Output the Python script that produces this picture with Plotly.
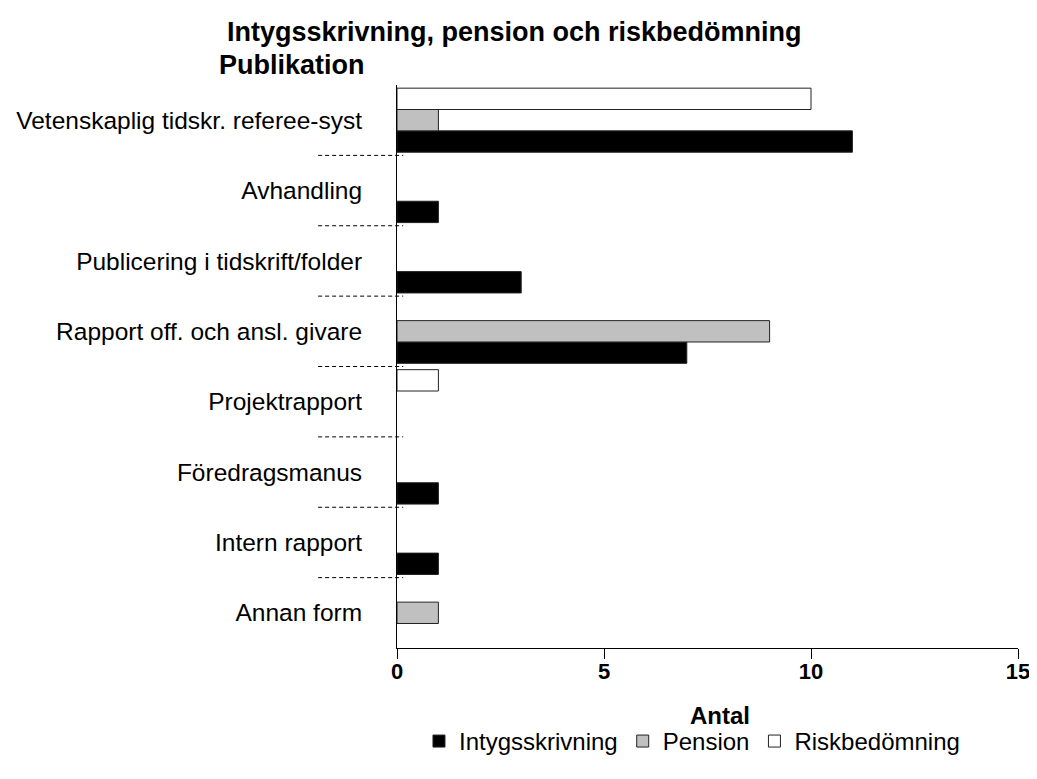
import plotly.graph_objects as go

categories = [
    "Vetenskaplig tidskr. referee-syst",
    "Avhandling",
    "Publicering i tidskrift/folder",
    "Rapport off. och ansl. givare",
    "Projektrapport",
    "Föredragsmanus",
    "Intern rapport",
    "Annan form",
]
intyg = [11, 1, 3, 7, 0, 1, 1, 0]
pension = [1, 0, 0, 9, 0, 0, 0, 1]
risk = [10, 0, 0, 0, 1, 0, 0, 0]
x_ticks = [0, 5, 10, 15]

FONT = "Liberation Sans, Arial, sans-serif"

def nz(vals):
    return [v if v else None for v in vals]

fig = go.Figure()
series = [
    ("Intygsskrivning", intyg, "#000000"),
    ("Pension", pension, "#c0c0c0"),
    ("Riskbedömning", risk, "#ffffff"),
]
for name, vals, color in series:
    fig.add_trace(go.Bar(
        y=categories, x=nz(vals), name=name, orientation="h",
        marker=dict(color=color, line=dict(color="#222222", width=1)),
    ))

shapes = []
for i in range(len(categories) - 1):
    shapes.append(dict(
        type="line", xref="x domain", yref="y",
        x0=-0.127, x1=0.01, y0=i + 0.5, y1=i + 0.5,
        line=dict(color="#000000", width=1, dash="4px,3px"),
    ))

fig.update_layout(
    width=1029, height=771,
    margin=dict(l=389, r=19, t=77, b=131, autoexpand=False),
    paper_bgcolor="white", plot_bgcolor="white",
    barmode="group", bargap=0.09, bargroupgap=0,
    font=dict(family=FONT, color="#000000", size=24),
    showlegend=True,
    legend=dict(
        orientation="h", x=0.475, xanchor="center", y=-0.166, yanchor="middle",
        font=dict(size=24), itemwidth=30, tracegroupgap=0,
    ),
    shapes=shapes,
    annotations=[
        dict(text="<b>Intygsskrivning, pension och riskbedömning</b>",
             xref="paper", yref="paper", x=0.19, y=1.0, yshift=53,
             xanchor="center", yanchor="middle", showarrow=False,
             font=dict(size=27)),
        dict(text="<b>Publikation</b>",
             xref="paper", yref="paper", x=-0.29, y=1.0, yshift=20,
             xanchor="left", yanchor="middle", showarrow=False,
             font=dict(size=27)),
        dict(text="<b>Antal</b>",
             xref="paper", yref="paper", x=0.52, y=0, yshift=-67,
             xanchor="center", yanchor="middle", showarrow=False,
             font=dict(size=24)),
    ],
)
fig.update_xaxes(
    range=[0, 15], tickvals=x_ticks, ticks="outside", ticklen=10,
    tickcolor="#000000", showline=True, linecolor="#000000", linewidth=1,
    showgrid=False, zeroline=False, ticklabelstandoff=-6, automargin=False,
    tickfont=dict(size=22, weight="bold"),
)
fig.update_yaxes(
    categoryorder="array", categoryarray=categories[::-1],
    showline=True, linecolor="#000000", linewidth=1, automargin=False,
    ticks="", ticklabelstandoff=29, showgrid=False,
    tickfont=dict(size=24.5),
)

fig.write_html("out.html")
